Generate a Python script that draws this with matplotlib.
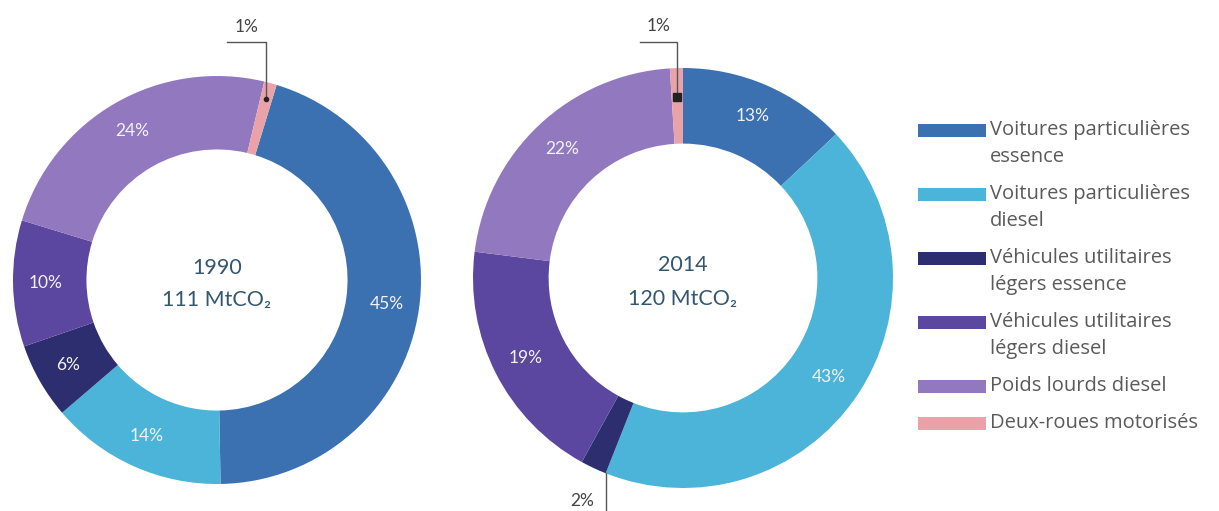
import numpy as np
import matplotlib
matplotlib.use("Agg")
import matplotlib.pyplot as plt
from matplotlib.patches import Rectangle

plt.rcParams["font.family"] = ["Lato", "DejaVu Sans"]

# data
categories = ["Voitures particulières\nessence", "Voitures particulières\ndiesel",
              "Véhicules utilitaires\nlégers essence", "Véhicules utilitaires\nlégers diesel",
              "Poids lourds diesel", "Deux-roues motorisés"]
colors = ["#3b71b1", "#4bb4d8", "#2d2e70", "#5b46a0", "#9278bf", "#e9a2a7"]
shares_1990 = [45, 14, 6, 10, 24, 1]
shares_2014 = [13, 43, 2, 19, 22, 1]
years = ["1990", "2014"]
totals = ["111 MtCO₂", "120 MtCO₂"]

W, H = 1219, 511
fig = plt.figure(figsize=(W / 100, H / 100), dpi=100)

def px_axes(cx, cy, r):
    # axes box as a square around a pixel centre
    return fig.add_axes([(cx - r) / W, (H - cy - r) / H, 2 * r / W, 2 * r / H])

def donut(ax, shares, start, year, total):
    wedges, _ = ax.pie(shares, colors=colors, startangle=start, counterclock=False,
                       radius=1, wedgeprops=dict(width=0.36, linewidth=0))
    ax.set_xlim(-1, 1)
    ax.set_ylim(-1, 1)
    ax.set_aspect("equal")
    ax.axis("off")
    for w, v in zip(wedges, shares):
        if v <= 2:
            continue
        a = np.deg2rad((w.theta1 + w.theta2) / 2)
        ax.text(0.84 * np.cos(a), 0.84 * np.sin(a), f"{v}%", ha="center", va="center",
                color="#f2f2f2", fontsize=12.5)
    ax.text(0, 0.06, year, ha="center", va="center", color="#34566f", fontsize=15.5)
    ax.text(0, -0.1, total, ha="center", va="center", color="#34566f", fontsize=15.5)
    return wedges

def top_leader(ax, wedge, v, r_mark, y_top, dx, marker, ms):
    a = np.deg2rad((wedge.theta1 + wedge.theta2) / 2)
    x0, y0 = r_mark * np.cos(a), r_mark * np.sin(a)
    ax.plot([x0, x0, x0 - dx], [y0, y_top, y_top], color="#555555", lw=1, clip_on=False)
    ax.plot([x0], [y0], marker=marker, color="#222222", ms=ms, clip_on=False)
    ax.text(x0 - dx / 2, y_top + 0.075, f"{v}%", ha="center", va="center",
            color="#444444", fontsize=12.5, clip_on=False)

ax1 = px_axes(217, 280, 204)
w1 = donut(ax1, shares_1990, 73, years[0], totals[0])
top_leader(ax1, w1[5], shares_1990[5], 0.92, 1.167, 0.19, "o", 3)

ax2 = px_axes(683, 278, 210)
w2 = donut(ax2, shares_2014, 90, years[1], totals[1])
top_leader(ax2, w2[5], shares_2014[5], 0.86, 1.124, 0.18, "s", 6)

# leader for the small 2% wedge
a = np.deg2rad(w2[2].theta2)
x0, y0 = np.cos(a), np.sin(a)
ax2.plot([x0, x0], [y0, -1.12], color="#555555", lw=1, clip_on=False)
ax2.text(x0 - 0.11, -1.06, f"{shares_2014[2]}%", ha="center", va="center",
         color="#444444", fontsize=12.5, clip_on=False)

# legend drawn in pixel space
lg = fig.add_axes([0, 0, 1, 1])
lg.set_xlim(0, W)
lg.set_ylim(H, 0)
lg.axis("off")
y = 130
for lab, c in zip(categories, colors):
    lines = lab.split("\n")
    lg.add_patch(Rectangle((918, y - 6), 68, 13, color=c, lw=0))
    for i, line in enumerate(lines):
        lg.text(990, y + 27 * i, line, ha="left", va="center", color="#5a5a5a",
                fontsize=14.5, family=["Open Sans", "DejaVu Sans"])
    y += 27 * len(lines) + 10

fig.savefig("out.png", dpi=100)
